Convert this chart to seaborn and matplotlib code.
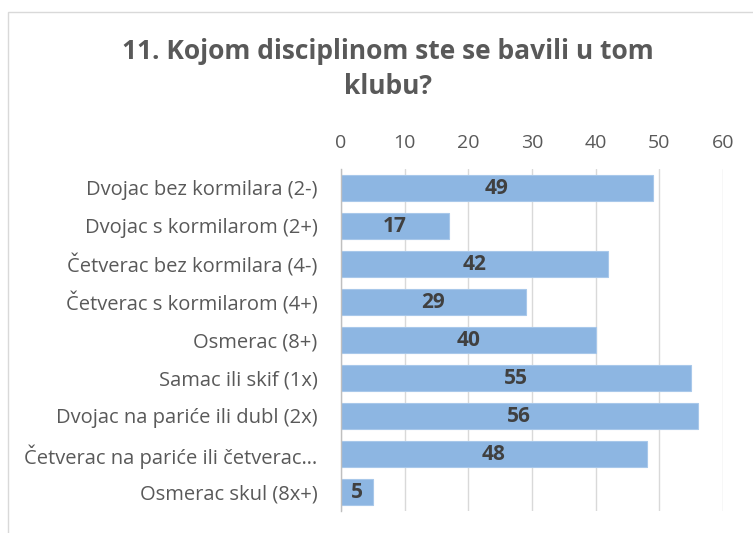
import matplotlib
matplotlib.use("Agg")
import matplotlib.pyplot as plt
import seaborn as sns
import pandas as pd
from matplotlib.patches import Rectangle

categories = [
    "Dvojac bez kormilara (2-)",
    "Dvojac s kormilarom (2+)",
    "Četverac bez kormilara (4-)",
    "Četverac s kormilarom (4+)",
    "Osmerac (8+)",
    "Samac ili skif (1x)",
    "Dvojac na pariće ili dubl (2x)",
    "Četverac na pariće ili četverac…",
    "Osmerac skul (8x+)",
]
values = [49, 17, 42, 29, 40, 55, 56, 48, 5]
xticks = [0, 10, 20, 30, 40, 50, 60]
title = "11. Kojom disciplinom ste se bavili u tom\nklubu?"

sns.set_theme(style="white")
plt.rcParams["font.family"] = ["Open Sans", "DejaVu Sans"]

df = pd.DataFrame({"cat": categories, "val": values})

fig = plt.figure(figsize=(7.53, 5.33), dpi=100)
ax = fig.add_axes([341/753, 1-511/533, (723-341)/753, (511-169)/533])

sns.barplot(data=df, x="val", y="cat", orient="h", ax=ax, color="#8db6e2",
            width=0.66, edgecolor="#a8c8ea", linewidth=0.8, saturation=1)

ax.set_xlim(0, 60)
ax.set_xticks(xticks)
ax.xaxis.tick_top()
ax.tick_params(axis="x", length=0, labelsize=14, labelcolor="#595959", pad=12)
ax.tick_params(axis="y", length=0, labelsize=14.5, labelcolor="#595959", pad=17)
ax.set_xlabel("")
ax.set_ylabel("")
ax.grid(axis="x", color="#d9d9d9", linewidth=1)
ax.set_axisbelow(True)
for s in ["top", "right", "bottom"]:
    ax.spines[s].set_visible(False)
ax.spines["left"].set_color("#bfbfbf")
ax.spines["left"].set_linewidth(1)

for c in ax.containers:
    ax.bar_label(c, label_type="center", fontsize=15, fontweight="bold", color="#404040")

fig.text(0.5*(8/753+1)+0.01, 1-69/533, title, ha="center", va="center", fontsize=19,
         fontweight="bold", color="#595959", linespacing=1.35)

fig.patches.append(Rectangle((8/753, -0.1), 1.2, 1-12/533+0.1, transform=fig.transFigure,
                             fill=False, edgecolor="#d9d9d9", linewidth=1))

fig.savefig("out.png", dpi=100)
